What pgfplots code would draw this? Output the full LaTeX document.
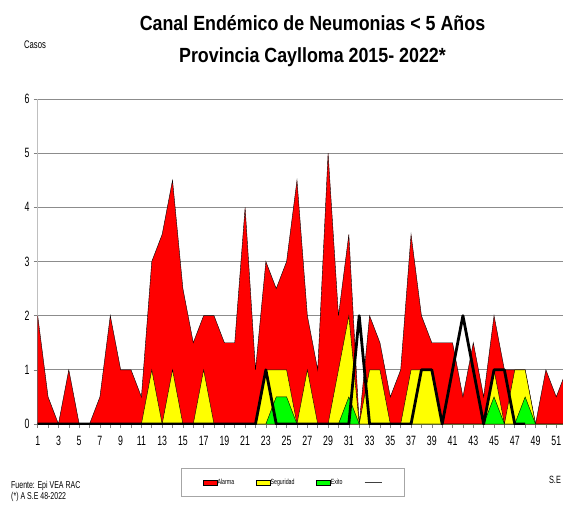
\documentclass[border=0pt]{standalone}
\usepackage{fontspec}
\setmainfont{Liberation Sans}
\newfontfamily\tfont[FakeStretch=0.87]{Liberation Sans}
\newfontfamily\nfont[FakeStretch=0.7]{Liberation Sans}
\newfontfamily\kfont[FakeStretch=0.65]{Liberation Sans}
\usepackage{pgfplots}
\usepackage{pgfplotstable}
\pgfplotsset{compat=1.18}
\definecolor{alarma}{RGB}{255,0,0}
\definecolor{seguridad}{RGB}{255,255,0}
\definecolor{exito}{RGB}{0,255,0}
\definecolor{gridc}{RGB}{140,140,140}
\pgfplotsset{areaimg/.style={legend image code/.code={\draw[##1] (0pt,-2.5pt) rectangle (14pt,2.5pt);}}}

\pgfplotstableread{
w alarma seguridad exito
1 2 0 0
2 0.5 0 0
3 0 0 0
4 1 0 0
5 0 0 0
6 0 0 0
7 0.5 0 0
8 2 0 0
9 1 0 0
10 1 0 0
11 0.5 0 0
12 3 1 0
13 3.5 0 0
14 4.5 1 0
15 2.5 0 0
16 1.5 0 0
17 2 1 0
18 2 0 0
19 1.5 0 0
20 1.5 0 0
21 4 0 0
22 1 0 0
23 3 1 0
24 2.5 1 0.5
25 3 1 0.5
26 4.5 0 0
27 2 1 0
28 1 0 0
29 5 0 0
30 2 1 0
31 3.5 2 0.5
32 0 0 0
33 2 1 0
34 1.5 1 0
35 0.5 0 0
36 1 0 0
37 3.5 1 0
38 2 1 0
39 1.5 1 0
40 1.5 0 0
41 1.5 0 0
42 0.5 0 0
43 1.5 0 0
44 0.5 0 0
45 2 1 0.5
46 1 0 0
47 1 1 0
48 1 1 0.5
49 0 0 0
50 1 0 0
51 0.5 0 0
52 1 0 0
}\canal

\pgfplotstableread{
w casos
1 0
2 0
3 0
4 0
5 0
6 0
7 0
8 0
9 0
10 0
11 0
12 0
13 0
14 0
15 0
16 0
17 0
18 0
19 0
20 0
21 0
22 0
23 1
24 0
25 0
26 0
27 0
28 0
29 0
30 0
31 0
32 2
33 0
34 0
35 0
36 0
37 0
38 1
39 1
40 0
41 1
42 2
43 1
44 0
45 1
46 1
47 0
48 0
}\actual

\begin{document}
\begin{tikzpicture}[x=1pt,y=1pt]
\useasboundingbox (0,0) rectangle (563,507);
\node[anchor=base, inner sep=0pt, font=\tfont\bfseries\fontsize{20.5}{24}\selectfont] at (312.5,476) {Canal Endémico de Neumonias < 5 Años};
\node[anchor=base, inner sep=0pt, font=\tfont\bfseries\fontsize{20.5}{24}\selectfont] at (312.5,444) {Provincia Caylloma 2015- 2022*};
\node[inner sep=0pt, font=\nfont\fontsize{11}{12}\selectfont] at (35,462) {Casos};
\node[inner sep=0pt, font=\nfont\fontsize{10.5}{11}\selectfont] at (555,27.5) {S.E};
\node[anchor=west, inner sep=0pt, font=\nfont\fontsize{10}{10}\selectfont] at (11,21) {Fuente: Epi VEA RAC};
\node[anchor=west, inner sep=0pt, font=\nfont\fontsize{10}{10}\selectfont] at (11,10) {(*) A S.E 48-2022};
\begin{axis}[
  at={(37.7pt,83pt)}, anchor=south west,
  scale only axis, width=525.3pt, height=325pt,
  xmin=1, xmax=51.65, ymin=0, ymax=6,
  axis x line*=bottom, axis y line*=left,
  x axis line style={draw=gray, -},
  y axis line style={draw=gray!50, -},
  ymajorgrids, grid style={gridc, line width=0.8pt},
  ytick={0,...,6},
  xtick={1,...,51},
  xticklabels={1,,3,,5,,7,,9,,11,,13,,15,,17,,19,,21,,23,,25,,27,,29,,31,,33,,35,,37,,39,,41,,43,,45,,47,,49,,51},
  tick align=outside, major tick length=4pt,
  tick style={gray, line width=0.6pt},
  /pgf/number format/assume math mode=true,
  ticklabel style={font=\kfont\fontsize{13.5}{14}\selectfont},
  xticklabel style={anchor=north, inner sep=0pt, yshift=-8pt},
  yticklabel style={anchor=east, inner sep=0pt, xshift=-4pt},
  legend columns=4,
  legend style={at={(0.486,-0.18)}, anchor=center, draw=gray!70, fill=white,
    inner xsep=21pt, inner ysep=10pt,
    font=\nfont\fontsize{7.5}{8}\selectfont,
    nodes={inner sep=0.5pt},
    /tikz/every even column/.append style={column sep=21pt}},
]
\addplot[fill=alarma, draw=black, line width=0.4pt, area legend, areaimg]
  table[x=w, y=alarma]{\canal} \closedcycle;
\addlegendentry{Alarma}
\addplot[fill=seguridad, draw=black, line width=0.4pt, area legend, areaimg]
  table[x=w, y=seguridad]{\canal} \closedcycle;
\addlegendentry{Seguridad}
\addplot[fill=exito, draw=black, line width=0.4pt, area legend, areaimg]
  table[x=w, y=exito]{\canal} \closedcycle;
\addlegendentry{Exito}
\addplot[black, line width=2.8pt, line join=round,
  legend image code/.code={\draw[gray!50!black, line width=1.2pt] (0pt,0pt) -- (17pt,0pt);}]
  table[x=w, y=casos]{\actual};
\addlegendentry{}
\end{axis}
\end{tikzpicture}
\end{document}
